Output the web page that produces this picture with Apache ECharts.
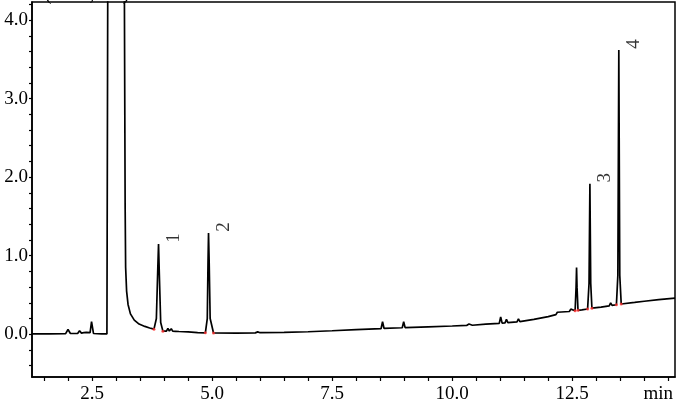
<!DOCTYPE html>
<html>
<head>
<meta charset="utf-8">
<script src="https://cdn.jsdelivr.net/npm/echarts@6/dist/echarts.min.js"></script>
<style>html,body{margin:0;padding:0;background:#fff}#c{width:681px;height:408px}</style>
</head>
<body>
<div id="c"></div>
<script>
// retention time (min)
const times = [1.25,1.6,1.95,2.0,2.05,2.2,2.24,2.28,2.33,2.38,2.42,2.46,2.49,2.53,2.7,2.81,
  2.83,3.17,3.19,3.20,3.22,3.25,3.30,3.38,3.48,3.6,3.7,3.79,3.84,3.87,3.885,3.90,3.93,3.976,
  4.05,4.08,4.11,4.15,4.18,4.21,4.24,4.27,4.31,4.5,4.7,4.86,4.9,4.915,4.926,4.94,4.96,5.03,
  5.5,5.9,5.95,6.0,6.5,7.0,7.5,8.0,8.52,8.55,8.58,8.96,8.99,9.02,9.5,10.0,10.3,10.35,10.42,
  10.7,10.98,11.01,11.04,11.1,11.13,11.16,11.35,11.38,11.41,11.7,12.0,12.16,12.19,12.22,
  12.44,12.47,12.50,12.56,12.58,12.59,12.60,12.62,12.7,12.82,12.85,12.868,12.885,12.91,
  13.1,13.27,13.3,13.33,13.42,13.45,13.47,13.49,13.52,13.8,14.0,14.3,14.64];
// detector signal (x100,000 uV)
const signal = [0.005,0.005,0.008,0.06,0.01,0.01,0.045,0.015,0.02,0.025,0.012,0.02,0.16,0.01,0.005,0.005,
  5.0,5.0,1.6,0.85,0.55,0.38,0.26,0.18,0.13,0.1,0.08,0.065,0.2,0.85,1.15,0.8,0.15,0.04,
  0.04,0.075,0.042,0.07,0.04,0.065,0.038,0.06,0.035,0.03,0.022,0.018,0.2,0.9,1.29,0.9,0.2,0.016,
  0.015,0.018,0.03,0.02,0.025,0.032,0.045,0.06,0.073,0.16,0.076,0.083,0.16,0.085,0.095,0.105,0.112,0.13,0.115,
  0.128,0.138,0.22,0.142,0.145,0.19,0.148,0.158,0.195,0.162,0.19,0.225,0.25,0.28,0.26,
  0.29,0.32,0.297,0.30,0.6,0.85,0.6,0.305,0.31,0.322,0.65,1.915,0.65,0.332,
  0.345,0.362,0.40,0.368,0.376,0.75,3.62,0.75,0.385,0.405,0.42,0.44,0.46];
// numbered peaks
const peakNames = ['1','2','3','4'];
const peakTimes = [3.885,4.926,12.868,13.47];
const peakHeights = [1.15,1.29,1.915,3.62];
// integration start/end marks
const markTimes = [3.79,3.976,4.86,5.03,12.56,12.62,12.82,12.91,13.42,13.52];
const markValues = [0.065,0.04,0.018,0.016,0.30,0.305,0.322,0.332,0.376,0.385];
// axis ticks and labels
const xTickLabels = [2.5,5.0,7.5,10.0,12.5];
const xTicks = [1.5,2.0,2.5,3.0,3.5,4.0,4.5,5.0,5.5,6.0,6.5,7.0,7.5,8.0,8.5,9.0,9.5,10.0,10.5,11.0,11.5,12.0,12.5,13.0,13.5,14.0,14.5];
const yTickLabels = [0.0,1.0,2.0,3.0,4.0];
const yTicks = [-0.4,-0.2,0,0.2,0.4,0.6,0.8,1.0,1.2,1.4,1.6,1.8,2.0,2.2,2.4,2.6,2.8,3.0,3.2,3.4,3.6,3.8,4.0,4.2];

const FONT = 'Liberation Serif';
const chart = echarts.init(document.getElementById('c'), null, {renderer: 'canvas'});
chart.setOption({
  animation: false,
  backgroundColor: '#fff',
  grid: {left: 32, right: 6, top: 2, bottom: 31, show: true, borderColor: '#000', borderWidth: 1.5},
  graphic: [{
    type: 'text', left: 22, top: -14,
    style: {text: 'uV(x100,000)', font: '19px "Liberation Serif"', fill: '#000'}
  }],
  xAxis: {
    type: 'value', min: 1.25, max: 14.64,
    name: 'min', nameLocation: 'end', nameGap: 0,
    nameTextStyle: {fontFamily: FONT, fontSize: 19, color: '#000', align: 'right', verticalAlign: 'top', padding: [8, 2, 0, 0]},
    axisLine: {show: true, onZero: false, lineStyle: {color: '#000', width: 1.6}},
    axisTick: {show: true, inside: false, length: 4, customValues: xTicks, lineStyle: {color: '#000', width: 1.2}},
    axisLabel: {customValues: xTickLabels, margin: 8, fontFamily: FONT, fontSize: 19, color: '#000',
      formatter: v => v.toFixed(1)},
    splitLine: {show: false}
  },
  yAxis: {
    type: 'value', min: -0.544, max: 4.23,
    axisLine: {show: true, onZero: false, lineStyle: {color: '#000', width: 1.6}},
    axisTick: {show: true, inside: false, length: 3, customValues: yTicks, lineStyle: {color: '#000', width: 1.2}},
    axisLabel: {customValues: yTickLabels, margin: 4, fontFamily: FONT, fontSize: 19, color: '#000',
      formatter: v => v.toFixed(1)},
    splitLine: {show: false}
  },
  series: [
    {
      type: 'line', data: times.map((t, i) => [t, signal[i]]),
      symbol: 'none', sampling: null, clip: true,
      lineStyle: {color: '#000', width: 1.7}, z: 3
    },
    {
      type: 'scatter', data: markTimes.map((t, i) => [t, markValues[i]]),
      symbol: 'circle', symbolSize: 3, itemStyle: {color: '#ff3030'}, z: 4
    },
    {
      type: 'scatter', data: peakTimes.map((t, i) => ({value: [t, peakHeights[i]], name: peakNames[i]})),
      symbol: 'circle', symbolSize: 1, itemStyle: {color: 'rgba(0,0,0,0)'}, z: 5,
      label: {show: true, position: 'inside', rotate: 90, offset: [6, 15], formatter: '{b}',
        fontFamily: FONT, fontSize: 19, color: '#000'}
    }
  ]
});
</script>
</body>
</html>
